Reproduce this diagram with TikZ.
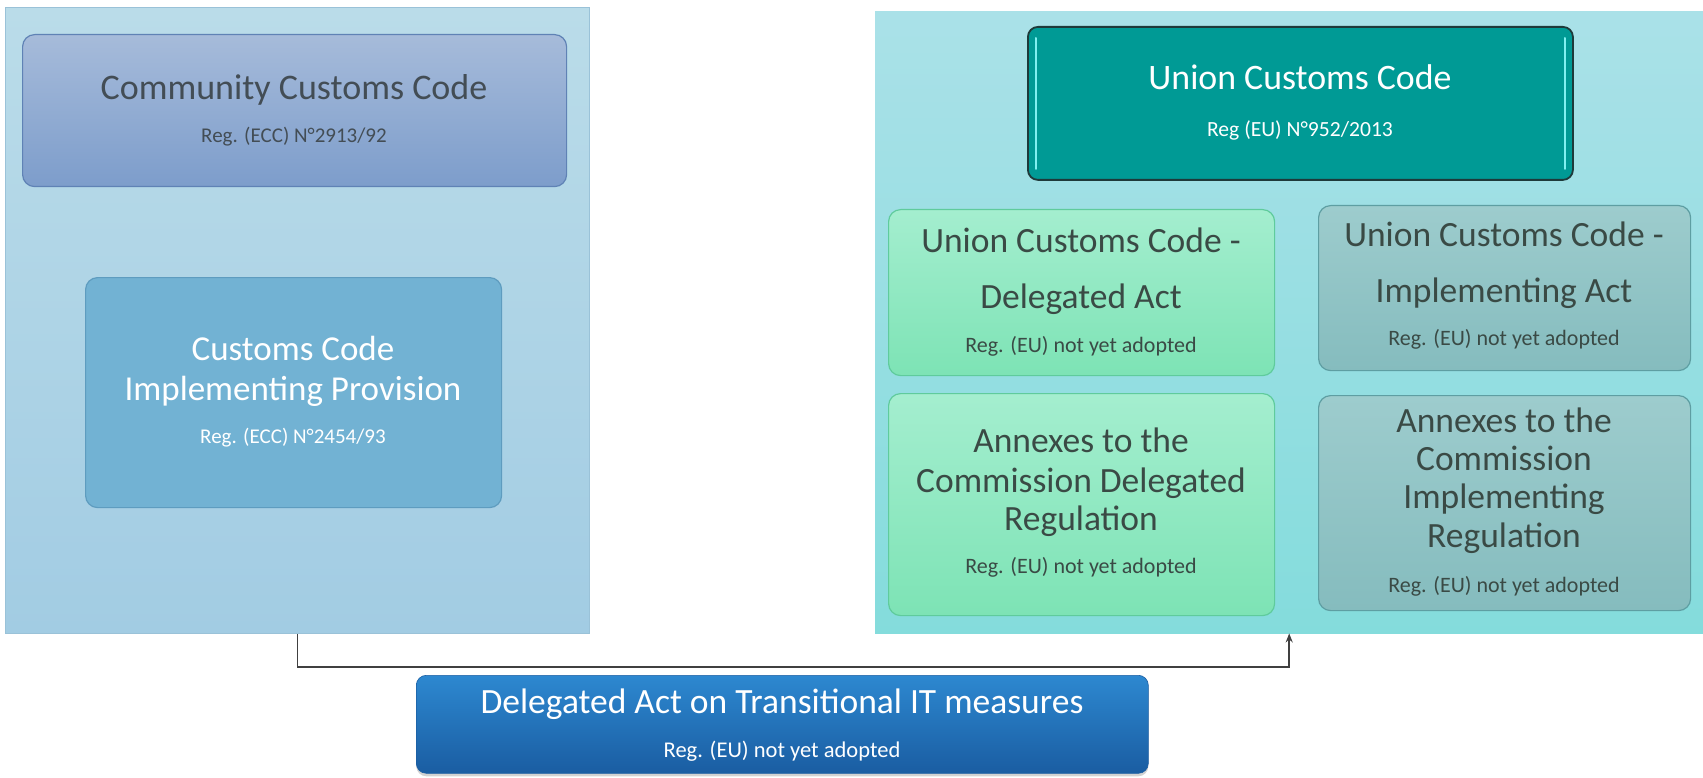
\documentclass[tikz,border=0pt]{standalone}
\usepackage{fontspec}
\setmainfont{Carlito}
\usetikzlibrary{arrows.meta,shadows}
\definecolor{lpanT}{HTML}{BADCE9}
\definecolor{lpanB}{HTML}{A2CCE3}
\definecolor{lpanD}{HTML}{9AC2D8}
\definecolor{cccT}{HTML}{A6BBDA}
\definecolor{cccB}{HTML}{7D9DCB}
\definecolor{cccD}{HTML}{5F82B5}
\definecolor{ccipF}{HTML}{72B2D3}
\definecolor{ccipD}{HTML}{5E9CBF}
\definecolor{rpanT}{HTML}{AAE1E8}
\definecolor{rpanB}{HTML}{84DCDC}
\definecolor{uccF}{HTML}{009A95}
\definecolor{uccD}{HTML}{1E3A3A}
\definecolor{uccL}{HTML}{80F0F0}
\definecolor{grnT}{HTML}{A4EECF}
\definecolor{grnB}{HTML}{7DE3B5}
\definecolor{grnD}{HTML}{5FCB9C}
\definecolor{gryT}{HTML}{9DCCCD}
\definecolor{gryB}{HTML}{85BCBE}
\definecolor{gryD}{HTML}{5E9EA2}
\definecolor{botT}{HTML}{2D88D0}
\definecolor{botB}{HTML}{1A5DA2}
\definecolor{txtD}{HTML}{434D55}
\definecolor{txtG}{HTML}{3A4A45}
\definecolor{connC}{HTML}{404040}
\tikzset{
  panel/.style={rectangle, anchor=north west, inner sep=0pt},
  rbox/.style={rectangle, rounded corners=12pt, anchor=north west, inner sep=0pt, line width=1.2pt},
  tl/.style={anchor=base, inner sep=0pt, font=\fontsize{#1}{#1}\selectfont},
  tl/.default=34,
  rg/.style={anchor=base, inner sep=0pt, font=\fontsize{#1}{#1}\selectfont},
  rg/.default=21,
  conn/.style={draw=connC, line width=1.6pt, -{Stealth[length=9pt,width=7pt]}}
}
\begin{document}
\begin{tikzpicture}[x=1pt,y=-1pt]
\useasboundingbox (0,0) rectangle (1703,778);
\fill[white] (0,0) rectangle (1703,778);
% panels
\node[panel, minimum width=584pt, minimum height=626pt, top color=lpanT, bottom color=lpanB, draw=lpanD, line width=0.8pt] (left) at (5,7) {};
\node[panel, minimum width=828pt, minimum height=622pt, top color=rpanT, bottom color=rpanB] (right) at (875,11) {};
% left boxes
\node[rbox, minimum width=544pt, minimum height=152pt, top color=cccT, bottom color=cccB, draw=cccD] (ccc) at (22,34) {};
\node[tl=36, text=txtD] (ccct) at (294,100) {Community Customs Code};
\node[rg, text=txtD] (cccr) at (294,143) {Reg. (ECC) N°2913/92};
\node[rbox, minimum width=416pt, minimum height=230pt, fill=ccipF, draw=ccipD] (ccip) at (85,277) {};
\node[tl=35, text=white] (ccip1) at (293,360) {Customs Code};
\node[tl=35, text=white] (ccip2) at (293,400) {Implementing Provision};
\node[rg, text=white] (ccipr) at (293,443) {Reg. (ECC) N°2454/93};
% right boxes
\node[rbox, rounded corners=10pt, minimum width=545pt, minimum height=153pt, fill=uccF, draw=uccD, line width=1.8pt] (ucc) at (1027,26) {};
\draw[uccL, line width=2pt, line cap=round] ([xshift=9pt,yshift=-12pt]ucc.north west) -- ([xshift=9pt,yshift=12pt]ucc.south west);
\draw[uccL, line width=2pt, line cap=round] ([xshift=-9pt,yshift=-12pt]ucc.north east) -- ([xshift=-9pt,yshift=12pt]ucc.south east);
\node[tl=35.8, text=white] (ucct) at (1300,90) {Union Customs Code};
\node[rg=21.6, text=white] (uccr) at (1300,137) {Reg (EU) N°952/2013};
\node[rbox, minimum width=386pt, minimum height=166pt, top color=grnT, bottom color=grnB, draw=grnD] (g1) at (888,209) {};
\node[tl=35.5, text=txtG] (g1a) at (1081,253) {Union Customs Code -};
\node[tl=35.5, text=txtG] (g1b) at (1081,308) {Delegated Act};
\node[rg=22, text=txtG] (g1r) at (1081,352) {Reg. (EU) not yet adopted};
\node[rbox, minimum width=372pt, minimum height=165pt, top color=gryT, bottom color=gryB, draw=gryD] (s1) at (1318,205) {};
\node[tl=35.5, text=txtG] (s1a) at (1504,247) {Union Customs Code -};
\node[tl=35.5, text=txtG] (s1b) at (1504,302) {Implementing Act};
\node[rg=22, text=txtG] (s1r) at (1504,345) {Reg. (EU) not yet adopted};
\node[rbox, minimum width=386pt, minimum height=222pt, top color=grnT, bottom color=grnB, draw=grnD] (g2) at (888,393) {};
\node[tl=35.5, text=txtG] (g2a) at (1081,452) {Annexes to the};
\node[tl=35.5, text=txtG] (g2b) at (1081,492) {Commission Delegated};
\node[tl=35.5, text=txtG] (g2c) at (1081,530) {Regulation};
\node[rg=22, text=txtG] (g2r) at (1081,573) {Reg. (EU) not yet adopted};
\node[rbox, minimum width=372pt, minimum height=215pt, top color=gryT, bottom color=gryB, draw=gryD] (s2) at (1318,395) {};
\node[tl=35.5, text=txtG] (s2a) at (1504,432) {Annexes to the};
\node[tl=35.5, text=txtG] (s2b) at (1504,470) {Commission};
\node[tl=35.5, text=txtG] (s2c) at (1504,508) {Implementing};
\node[tl=35.5, text=txtG] (s2d) at (1504,547) {Regulation};
\node[rg=22, text=txtG] (s2r) at (1504,592) {Reg. (EU) not yet adopted};
% connector
\draw[conn] (left.south) -- ++(0,33) -| (right.south);
% bottom box
\node[rbox, rounded corners=10pt, minimum width=732pt, minimum height=98pt, top color=botT, bottom color=botB, draw=botB, line width=0.6pt, drop shadow={shadow xshift=0pt, shadow yshift=-3pt, opacity=0.35}] (bot) at (416,675) {};
\node[tl=35.5, text=white] (bott) at (782,713) {Delegated Act on Transitional IT measures};
\node[rg=22.5, text=white] (botr) at (782,757) {Reg. (EU) not yet adopted};
\end{tikzpicture}
\end{document}
